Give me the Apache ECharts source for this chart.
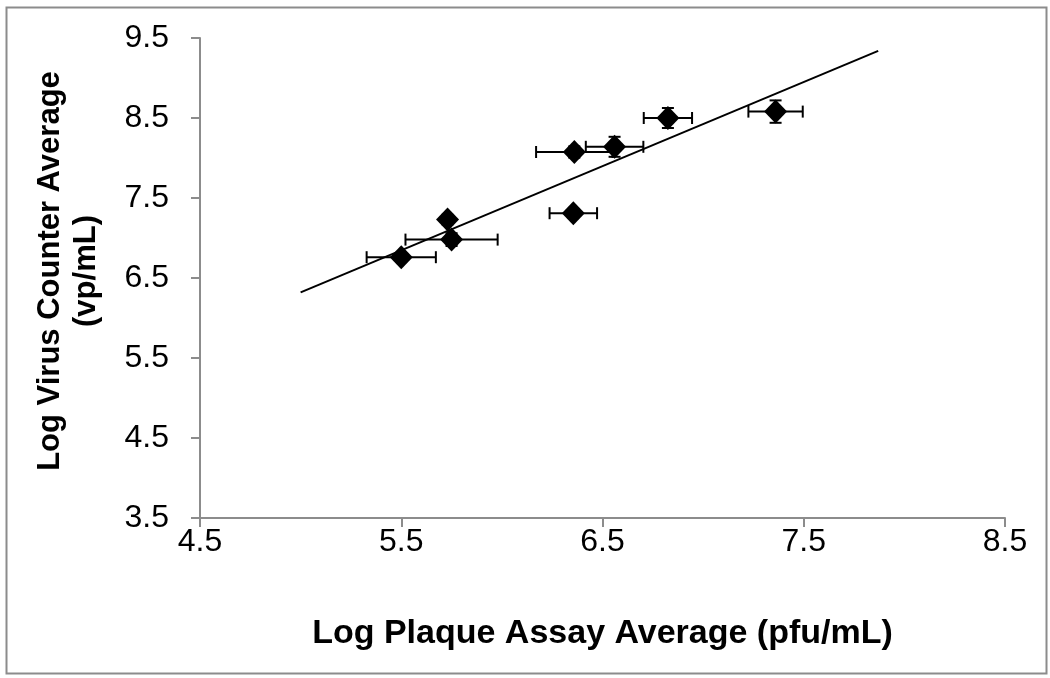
<!DOCTYPE html>
<html>
<head>
<meta charset="utf-8">
<script src="https://cdn.jsdelivr.net/npm/echarts@6/dist/echarts.min.js"></script>
<style>
html,body{margin:0;padding:0;background:#fff;}
#chart{width:1050px;height:678px;}
</style>
</head>
<body>
<div id="chart"></div>
<script>
// Data
const xVals = [5.50, 5.73, 5.75, 6.36, 6.56, 6.355, 6.825, 7.36];
const yVals = [6.76, 7.23, 6.98, 8.075, 8.14, 7.31, 8.50, 8.58];
const xErr  = [0.172, 0.02, 0.229, 0.19, 0.143, 0.118, 0.12, 0.135];
const yErr  = [0.05, 0.06, 0.08, 0.07, 0.125, 0.05, 0.125, 0.14];
const trendX = [5.0, 7.87];
const trendY = [6.32, 9.34];
const xTicks = [4.5, 5.5, 6.5, 7.5, 8.5];
const yTicks = [3.5, 4.5, 5.5, 6.5, 7.5, 8.5, 9.5];

const FONT = 'Arial, "Liberation Sans", sans-serif';
const chart = echarts.init(document.getElementById('chart'), null, {renderer: 'canvas'});

const errData = xVals.map((x, i) => [x, yVals[i], xErr[i], yErr[i]]);
const ptData = xVals.map((x, i) => [x, yVals[i]]);
const trendData = trendX.map((x, i) => [x, trendY[i]]);

function renderErr(params, api) {
  const x = api.value(0), y = api.value(1), ex = api.value(2), ey = api.value(3);
  const l = api.coord([x - ex, y]);
  const r = api.coord([x + ex, y]);
  const t = api.coord([x, y + ey]);
  const b = api.coord([x, y - ey]);
  const cap = 6;
  const st = {stroke: '#000', lineWidth: 2};
  return {
    type: 'group',
    children: [
      {type: 'line', shape: {x1: l[0], y1: l[1], x2: r[0], y2: r[1]}, style: st},
      {type: 'line', shape: {x1: l[0], y1: l[1] - cap, x2: l[0], y2: l[1] + cap}, style: st},
      {type: 'line', shape: {x1: r[0], y1: r[1] - cap, x2: r[0], y2: r[1] + cap}, style: st},
      {type: 'line', shape: {x1: t[0], y1: t[1], x2: b[0], y2: b[1]}, style: st},
      {type: 'line', shape: {x1: t[0] - cap, y1: t[1], x2: t[0] + cap, y2: t[1]}, style: st},
      {type: 'line', shape: {x1: b[0] - cap, y1: b[1], x2: b[0] + cap, y2: b[1]}, style: st}
    ]
  };
}

const option = {
  backgroundColor: '#fff',
  animation: false,
  grid: {left: 200, right: 45, top: 38, bottom: 160, containLabel: false},
  graphic: [{
    type: 'rect', left: 4, top: 5, silent: true,
    shape: {width: 1040, height: 666},
    style: {fill: 'none', stroke: '#8c8c8c', lineWidth: 2}
  }],
  xAxis: {
    type: 'value', min: 4.5, max: 8.5,
    name: 'Log Plaque Assay Average (pfu/mL)',
    nameLocation: 'middle', nameGap: 99,
    nameTextStyle: {fontFamily: FONT, fontWeight: 'bold', fontSize: 34, color: '#000'},
    axisLine: {show: true, onZero: false, lineStyle: {color: '#8c8c8c', width: 2}},
    axisTick: {show: true, length: 9, customValues: xTicks, lineStyle: {color: '#8c8c8c', width: 2}},
    axisLabel: {customValues: xTicks, margin: 8, fontFamily: FONT, fontSize: 32, color: '#000',
      formatter: v => Number(v).toFixed(1)},
    splitLine: {show: false}
  },
  yAxis: {
    type: 'value', min: 3.5, max: 9.5,
    name: 'Log Virus Counter Average\n(vp/mL)',
    nameLocation: 'middle', nameGap: 96, nameRotate: 90,
    nameTextStyle: {fontFamily: FONT, fontWeight: 'bold', fontSize: 31, lineHeight: 36, color: '#000',
      align: 'center', padding: [0, 0, 0, 14]},
    axisLine: {show: true, onZero: false, lineStyle: {color: '#8c8c8c', width: 2}},
    axisTick: {show: true, length: 9, customValues: yTicks, lineStyle: {color: '#8c8c8c', width: 2}},
    axisLabel: {customValues: yTicks, margin: 31, fontFamily: FONT, fontSize: 32, color: '#000',
      formatter: v => Number(v).toFixed(1)},
    splitLine: {show: false}
  },
  series: [
    {
      type: 'line', data: trendData, symbol: 'none', silent: true,
      lineStyle: {color: '#000', width: 2}, z: 2
    },
    {
      type: 'custom', data: errData, renderItem: renderErr,
      encode: {x: 0, y: 1}, z: 3, silent: true
    },
    {
      type: 'scatter', data: ptData, symbol: 'diamond', symbolSize: [23, 24],
      itemStyle: {color: '#000', opacity: 1}, z: 4
    }
  ]
};
chart.setOption(option);
</script>
</body>
</html>
